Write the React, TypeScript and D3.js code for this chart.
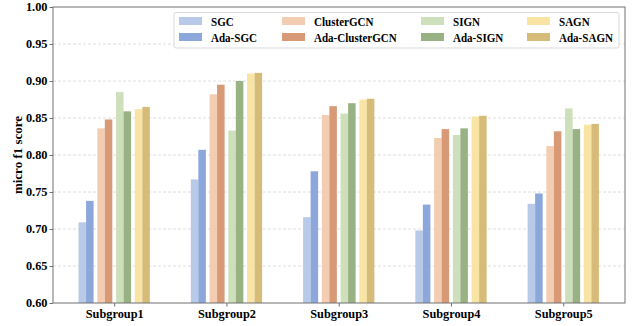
import React, { useRef, useEffect } from 'react';
import * as d3 from 'd3';

// chart data
const groups = ['Subgroup1', 'Subgroup2', 'Subgroup3', 'Subgroup4', 'Subgroup5'];
const methods = ['SGC', 'Ada-SGC', 'ClusterGCN', 'Ada-ClusterGCN', 'SIGN', 'Ada-SIGN', 'SAGN', 'Ada-SAGN'];
const sgc = [0.709, 0.767, 0.716, 0.698, 0.734];
const adaSgc = [0.738, 0.807, 0.778, 0.733, 0.748];
const clusterGcn = [0.836, 0.882, 0.854, 0.823, 0.812];
const adaClusterGcn = [0.848, 0.895, 0.866, 0.835, 0.832];
const sign = [0.885, 0.833, 0.856, 0.827, 0.863];
const adaSign = [0.859, 0.900, 0.870, 0.836, 0.835];
const sagn = [0.862, 0.910, 0.875, 0.852, 0.841];
const adaSagn = [0.865, 0.911, 0.876, 0.853, 0.842];
const series = [sgc, adaSgc, clusterGcn, adaClusterGcn, sign, adaSign, sagn, adaSagn];
const colors = ['#b3c5e6', '#819fd8', '#f2c9aa', '#d4906a', '#c9ddb5', '#8fab79', '#f9e29b', '#d3b66d'];
const yTicks = [0.6, 0.65, 0.7, 0.75, 0.8, 0.85, 0.9, 0.95, 1.0];

const width = 641;
const height = 326;
const left = 53;
const right = 625;
const top = 7;
const bottom = 303;
const font = '"Liberation Serif", "Times New Roman", serif';

export default function App() {
  const ref = useRef<SVGSVGElement>(null);

  useEffect(() => {
    const svg = d3.select(ref.current);
    svg.selectAll('*').remove();

    const x = d3.scaleLinear().domain([-0.545, 4.55]).range([left, right]);
    const y = d3.scaleLinear().domain([0.6, 1.0]).range([bottom, top]);
    const barW = 0.067;
    const pairStep = 0.167;

    // grid
    svg
      .append('g')
      .selectAll('line')
      .data(yTicks.slice(1, -1))
      .join('line')
      .attr('x1', left)
      .attr('x2', right)
      .attr('y1', d => y(d))
      .attr('y2', d => y(d))
      .attr('stroke', '#d6d6d6')
      .attr('stroke-width', 0.8)
      .attr('stroke-dasharray', '3,2');

    // bars
    series.forEach((vals, i) => {
      const pair = Math.floor(i / 2);
      const offset = (pair - 1.5) * pairStep + (i % 2 === 0 ? -barW / 2 : barW / 2);
      svg
        .append('g')
        .selectAll('rect')
        .data(vals)
        .join('rect')
        .attr('x', (d, j) => x(j + offset - barW / 2))
        .attr('width', x(barW) - x(0))
        .attr('y', d => y(d))
        .attr('height', d => bottom - y(d))
        .attr('fill', colors[i])
        .attr('fill-opacity', 0.92);
    });

    // axes
    const axisColor = '#707070';
    const yAxis = svg
      .append('g')
      .attr('transform', `translate(${left},0)`)
      .call(d3.axisLeft(y).tickValues(yTicks).tickFormat(d3.format('.2f')).tickSize(3.5).tickPadding(2));
    const xAxis = svg
      .append('g')
      .attr('transform', `translate(0,${bottom})`)
      .call(d3.axisBottom(x).tickValues(d3.range(groups.length)).tickFormat((d: any) => groups[d]).tickSize(3.5).tickPadding(3));
    [yAxis, xAxis].forEach(a => {
      a.select('.domain').remove();
      a.selectAll('line').attr('stroke', axisColor);
      a.selectAll('text')
        .attr('fill', '#000')
        .style('font-family', font)
        .style('font-weight', 'bold')
        .style('font-size', '12.3px');
    });

    svg
      .append('rect')
      .attr('x', left)
      .attr('y', top)
      .attr('width', right - left)
      .attr('height', bottom - top)
      .attr('fill', 'none')
      .attr('stroke', axisColor)
      .attr('stroke-width', 1);

    // y label
    svg
      .append('text')
      .attr('transform', `translate(17,${(top + bottom) / 2}) rotate(-90)`)
      .attr('text-anchor', 'middle')
      .attr('dy', '0.35em')
      .style('font-family', font)
      .style('font-weight', 'bold')
      .style('font-size', '13px')
      .text('micro f1 score');

    // legend
    const colX = [179, 282, 421, 527];
    const rowY = [21, 37];
    svg
      .append('rect')
      .attr('x', 174)
      .attr('y', 12.5)
      .attr('width', 445)
      .attr('height', 35.5)
      .attr('rx', 2)
      .attr('fill', '#fff')
      .attr('fill-opacity', 0.85)
      .attr('stroke', '#d9d9d9');
    methods.forEach((m, i) => {
      const cx = colX[Math.floor(i / 2)];
      const cy = rowY[i % 2];
      const g = svg.append('g');
      g.append('rect')
        .attr('x', cx)
        .attr('y', cy - 4)
        .attr('width', 23)
        .attr('height', 8)
        .attr('fill', colors[i])
        .attr('fill-opacity', 0.92);
      g.append('text')
        .attr('transform', `translate(${cx + 32},${cy}) scale(0.85,1)`)
        .attr('dy', '0.35em')
        .style('font-family', font)
        .style('font-weight', 'bold')
        .style('font-size', '13px')
        .text(m);
    });
  }, []);

  return <svg ref={ref} width={width} height={height} style={{ display: 'block', position: 'absolute', left: 0, top: 0 }} />;
}
